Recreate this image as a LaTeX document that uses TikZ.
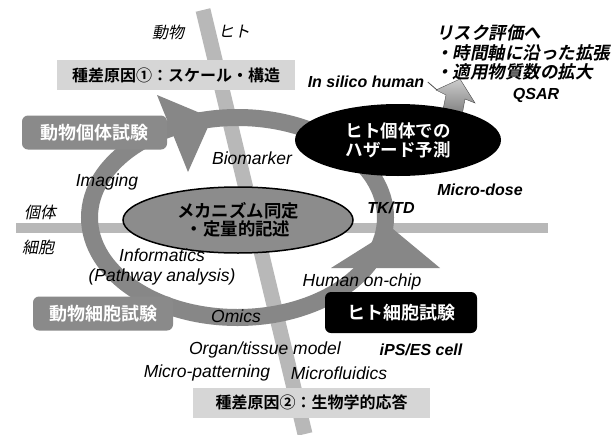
\documentclass[tikz,border=0pt]{standalone}
\usepackage{fontspec}
\usepackage{tikz}
\usetikzlibrary{shapes.geometric}
\setmainfont{Liberation Sans}
\newfontfamily\jp[BoldFont={Noto Sans CJK JP Bold},ItalicFont={Noto Sans CJK JP},ItalicFeatures={FakeSlant=0.2},BoldItalicFont={Noto Sans CJK JP Bold},BoldItalicFeatures={FakeSlant=0.2}]{Noto Sans CJK JP}
\colorlet{bandgray}{black!28}
\colorlet{ringgray}{black!47}
\colorlet{boxgray}{black!46}
\colorlet{diffgray}{black!16}
\tikzset{
  band/.style={line width=15pt, draw=bandgray},
  ring/.style={line width=17pt, draw=ringgray},
  diffbox/.style={fill=diffgray, minimum height=30pt, inner sep=0pt, font=\jp\bfseries\fontsize{16}{18}\selectfont},
  testbox/.style={rounded corners=6pt, fill=boxgray, text=white, minimum height=34pt, inner sep=0pt, font=\jp\bfseries\fontsize{18}{20}\selectfont},
  bigoval/.style={ellipse, inner sep=0pt, align=center, font=\jp\bfseries\fontsize{17.5}{19}\selectfont},
  jplab/.style={font=\jp\itshape\fontsize{16}{18}\selectfont},
  enlab/.style={font=\itshape\fontsize{17.5}{19.5}\selectfont},
  enbold/.style={font=\bfseries\itshape\fontsize{16}{18}\selectfont},
  risk/.style={anchor=west, inner sep=0pt, font=\jp\bfseries\itshape\fontsize{17.5}{19}\selectfont}
}
\begin{document}
\begin{tikzpicture}[x=1pt,y=-1pt]
\useasboundingbox[fill=white] (0,0) rectangle (615,434);

\draw[band] (203,10) -- (305,434);
\draw[band, line width=10pt] (16,228) -- (548,228);

\draw[ring] (237.5,217.5) ellipse [x radius=148, y radius=100];
\fill[ringgray] (157,95) -- (212,118) -- (188,172) -- cycle;
\fill[ringgray] (331,268) -- (393,229) -- (440,268) -- cycle;

\shade[top color=black!20, bottom color=black!60, draw=black!70] (440,124) -- (446,95) -- (436,90)
  -- (460,79) -- (475,103) -- (465,99) -- (460,126) -- cycle;

\node[diffbox, minimum width=238pt] (diff1) at (176,75) {種差原因①：スケール・構造};
\node[diffbox, minimum width=237pt] (diff2) at (311.5,402.5) {種差原因②：生物学的応答};

\node[testbox, minimum width=145pt] (animalind) at (94.5,132.5) {動物個体試験};
\node[testbox, minimum width=140pt] (animalcell) at (103,313.5) {動物細胞試験};
\node[testbox, fill=black, minimum width=152pt, minimum height=41pt] (humancell) at (401,312.5) {ヒト細胞試験};
\node[bigoval, fill=black, text=white, minimum width=206pt, minimum height=72pt] (humanind) at (398,140) {ヒト個体での\\ハザード予測};
\node[bigoval, draw, line width=1.5pt, fill=black!45, minimum width=230pt, minimum height=66pt, font=\jp\bfseries\fontsize{17.4}{18}\selectfont] (mech) at (238,220) {メカニズム同定\\・定量的記述};

\node[jplab] (animal) at (168,32) {動物};
\node[jplab] (human) at (234,32) {ヒト};
\node[jplab] (indiv) at (40,212) {個体};
\node[jplab] (cell) at (38,247) {細胞};

\node[enlab] (biomarker) at (252,158) {Biomarker};
\node[enlab] (imaging) at (107,182) {Imaging};
\node[enlab, align=center] (informatics) at (162,267) {Informatics\\(Pathway analysis)};
\node[enlab] (omics) at (236,316) {Omics};
\node[enlab] (organ) at (265,350) {Organ/tissue model};
\node[enlab] (patterning) at (207,373) {Micro-patterning};
\node[enlab] (fluidics) at (339,373) {Microfluidics};
\node[enlab] (onchip) at (362,282) {Human on-chip};

\node[enbold] (ips) at (421,350) {iPS/ES cell};
\node[enbold] (tktd) at (391,208) {TK/TD};
\node[enbold] (microdose) at (480,190) {Micro-dose};
\node[enbold] (insilico) at (366,82) {In silico human};
\node[enbold] (qsar) at (536,95) {QSAR};

\node[risk] (risk) at (436,33) {リスク評価へ};
\node[risk] (riskA) at (435,53) {・時間軸に沿った拡張};
\node[risk] (riskB) at (435,72) {・適用物質数の拡大};

\coordinate (arrowbarb) at (437,90);
\draw[thick, black!70] (insilico.east) -- (arrowbarb);
\end{tikzpicture}
\end{document}
